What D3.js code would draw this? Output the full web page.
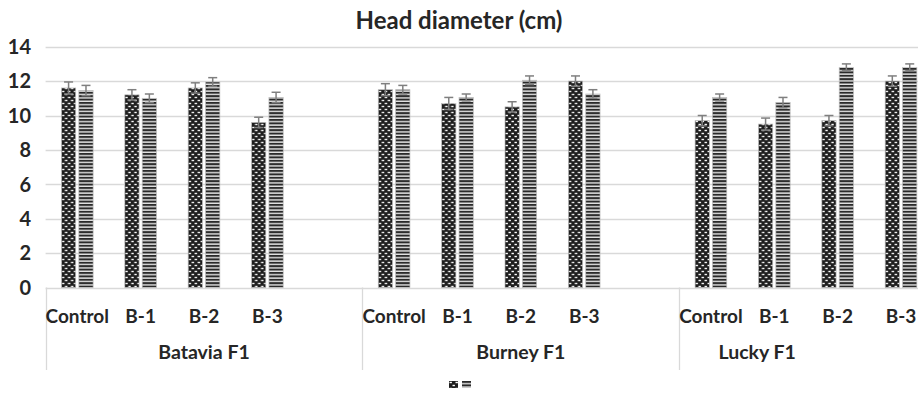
<!DOCTYPE html>
<meta charset="utf-8">

<!-- Load d3.js -->
<script src="https://d3js.org/d3.v7.min.js"></script>

<style>
  body { margin: 0; background: #fff; overflow: hidden; }
  text { font-family: Lato, "Open Sans", sans-serif; font-weight: bold; fill: #262626; }
</style>

<!-- Create a div where the graph will take place -->
<div id="my_dataviz"></div>

<script>

// the data
var groups = ["Batavia F1", "Burney F1", "Lucky F1"];
var categories = ["Control", "B-1", "B-2", "B-3"];
var seriesA = [11.6, 11.2, 11.6, 9.6,   11.5, 10.7, 10.5, 12.0,   9.7, 9.5, 9.7, 12.0];
var seriesB = [11.45, 11.0, 11.95, 11.05,   11.5, 11.05, 12.05, 11.25,   11.05, 10.75, 12.8, 12.8];
var errA = [0.35, 0.3, 0.3, 0.3,   0.35, 0.35, 0.3, 0.3,   0.3, 0.35, 0.3, 0.3];
var errB = [0.3, 0.25, 0.25, 0.3,   0.25, 0.2, 0.25, 0.25,   0.2, 0.3, 0.2, 0.2];
var yTicks = [0, 2, 4, 6, 8, 10, 12, 14];

// build rows: each group has its 4 categories and one empty slot after it
var slots = [];
var rows = [];
groups.forEach(function(g, gi) {
  categories.forEach(function(c, ci) {
    var key = g + "|" + c;
    slots.push(key);
    rows.push({ key: key, cat: c, group: g, a: seriesA[gi*4+ci], b: seriesB[gi*4+ci], ea: errA[gi*4+ci], eb: errB[gi*4+ci] });
  });
  if (gi < groups.length - 1) slots.push(g + "|gap");
});

// set the dimensions of the graph
var width = 918, height = 404;

var svg = d3.select("#my_dataviz")
  .append("svg")
    .attr("width", width)
    .attr("height", height);

// patterns for the two series
var defs = svg.append("defs");
var checker = defs.append("pattern")
    .attr("id", "checker")
    .attr("patternUnits", "userSpaceOnUse")
    .attr("width", 6).attr("height", 6);
checker.append("rect").attr("width", 6).attr("height", 6).attr("fill", "#1e1e1e");
checker.append("rect").attr("x", 0.5).attr("y", 0.8).attr("width", 2.4).attr("height", 1.4).attr("fill", "#fff");
checker.append("rect").attr("x", 3.5).attr("y", 3.8).attr("width", 2.4).attr("height", 1.4).attr("fill", "#fff");

var stripes = defs.append("pattern")
    .attr("id", "stripes")
    .attr("patternUnits", "userSpaceOnUse")
    .attr("width", 4).attr("height", 3.4);
stripes.append("rect").attr("width", 4).attr("height", 3.4).attr("fill", "#e6e6e6");
stripes.append("rect").attr("width", 4).attr("height", 2).attr("fill", "#2a2a2a");

// X scales
var x = d3.scaleBand()
  .domain(slots)
  .range([45.6, 932.7])
  .paddingInner(0.5)
  .paddingOuter(0.25);
var xSub = d3.scaleBand()
  .domain(["a", "b"])
  .range([0, x.bandwidth()])
  .paddingInner(0.18);

// Y scale
var y = d3.scaleLinear()
  .domain([0, 14])
  .range([287.5, 46.7]);

// gridlines
svg.append("g")
  .selectAll("line")
  .data(yTicks)
  .enter()
  .append("line")
    .attr("x1", 45.6)
    .attr("x2", width)
    .attr("y1", function(d) { return Math.round(y(d)) + 0.5; })
    .attr("y2", function(d) { return Math.round(y(d)) + 0.5; })
    .attr("stroke", "#d9d9d9")
    .attr("stroke-width", 1.3);

// Y axis labels
svg.append("g")
  .selectAll("text")
  .data(yTicks)
  .enter()
  .append("text")
    .attr("x", 31)
    .attr("y", function(d) { return y(d); })
    .attr("dy", "0.36em")
    .attr("text-anchor", "end")
    .style("font-size", "20px")
    .text(function(d) { return d; });

// group dividers (start of each group, 5 slots per group)
var step = x.step();
var groupStart = function(gi) { return x(slots[gi*5]) - x.paddingOuter()*step; };
svg.append("g")
  .selectAll("line")
  .data(groups)
  .enter()
  .append("line")
    .attr("x1", function(d, i) { return Math.round(groupStart(i)) + 0.5; })
    .attr("x2", function(d, i) { return Math.round(groupStart(i)) + 0.5; })
    .attr("y1", y(0))
    .attr("y2", 370)
    .attr("stroke", "#d9d9d9")
    .attr("stroke-width", 1.3);

// bars
var bar = svg.append("g")
  .selectAll("g")
  .data(rows)
  .enter()
  .append("g")
    .attr("transform", function(d) { return "translate(" + x(d.key) + ",0)"; });

bar.append("rect")
    .attr("x", xSub("a"))
    .attr("width", xSub.bandwidth())
    .attr("y", function(d) { return y(d.a); })
    .attr("height", function(d) { return y(0) - y(d.a); })
    .attr("fill", "url(#checker)")
    .attr("stroke", "#bdbdbd")
    .attr("stroke-width", 0.7);

bar.append("rect")
    .attr("x", xSub("b"))
    .attr("width", xSub.bandwidth())
    .attr("y", function(d) { return y(d.b); })
    .attr("height", function(d) { return y(0) - y(d.b); })
    .attr("fill", "url(#stripes)")
    .attr("stroke", "#bdbdbd")
    .attr("stroke-width", 0.7);

// error bars
function errorBars(key, errKey) {
  var cx = function() { return xSub(key) + xSub.bandwidth() / 2; };
  var eb = bar.append("g").attr("stroke", "#7f7f7f").attr("stroke-width", 1.5);
  eb.append("line")
    .attr("x1", cx).attr("x2", cx)
    .attr("y1", function(d) { return y(d[key] + d[errKey]); })
    .attr("y2", function(d) { return y(d[key] - d[errKey]); });
  [1, -1].forEach(function(s) {
    eb.append("line")
      .attr("x1", function() { return cx() - 4.5; })
      .attr("x2", function() { return cx() + 4.5; })
      .attr("y1", function(d) { return y(d[key] + s*d[errKey]); })
      .attr("y2", function(d) { return y(d[key] + s*d[errKey]); });
  });
}
errorBars("a", "ea");
errorBars("b", "eb");

// category labels
svg.append("g")
  .selectAll("text")
  .data(rows)
  .enter()
  .append("text")
    .attr("x", function(d) { return x(d.key) + x.bandwidth() / 2; })
    .attr("y", 323)
    .attr("text-anchor", "middle")
    .style("font-size", "19px")
    .text(function(d) { return d.cat; });

// group labels (last group is cut by the right edge, its label sits left of centre)
var groupSpan = [2.5, 2.5, 1.23];
svg.append("g")
  .selectAll("text")
  .data(groups)
  .enter()
  .append("text")
    .attr("x", function(d, i) { return groupStart(i) + groupSpan[i] * step; })
    .attr("y", 359)
    .attr("text-anchor", "middle")
    .style("font-size", "19.5px")
    .text(function(d) { return d; });

// title
svg.append("text")
  .attr("x", 459)
  .attr("y", 29)
  .attr("text-anchor", "middle")
  .style("font-size", "24px")
  .text("Head diameter (cm)");

// legend (series have no names)
var legend = svg.append("g").attr("transform", "translate(449,381)");
legend.append("rect").attr("x", 0).attr("y", 0).attr("width", 9).attr("height", 7).attr("fill", "url(#checker)");
legend.append("rect").attr("x", 13).attr("y", 0).attr("width", 9).attr("height", 7).attr("fill", "url(#stripes)");

</script>
